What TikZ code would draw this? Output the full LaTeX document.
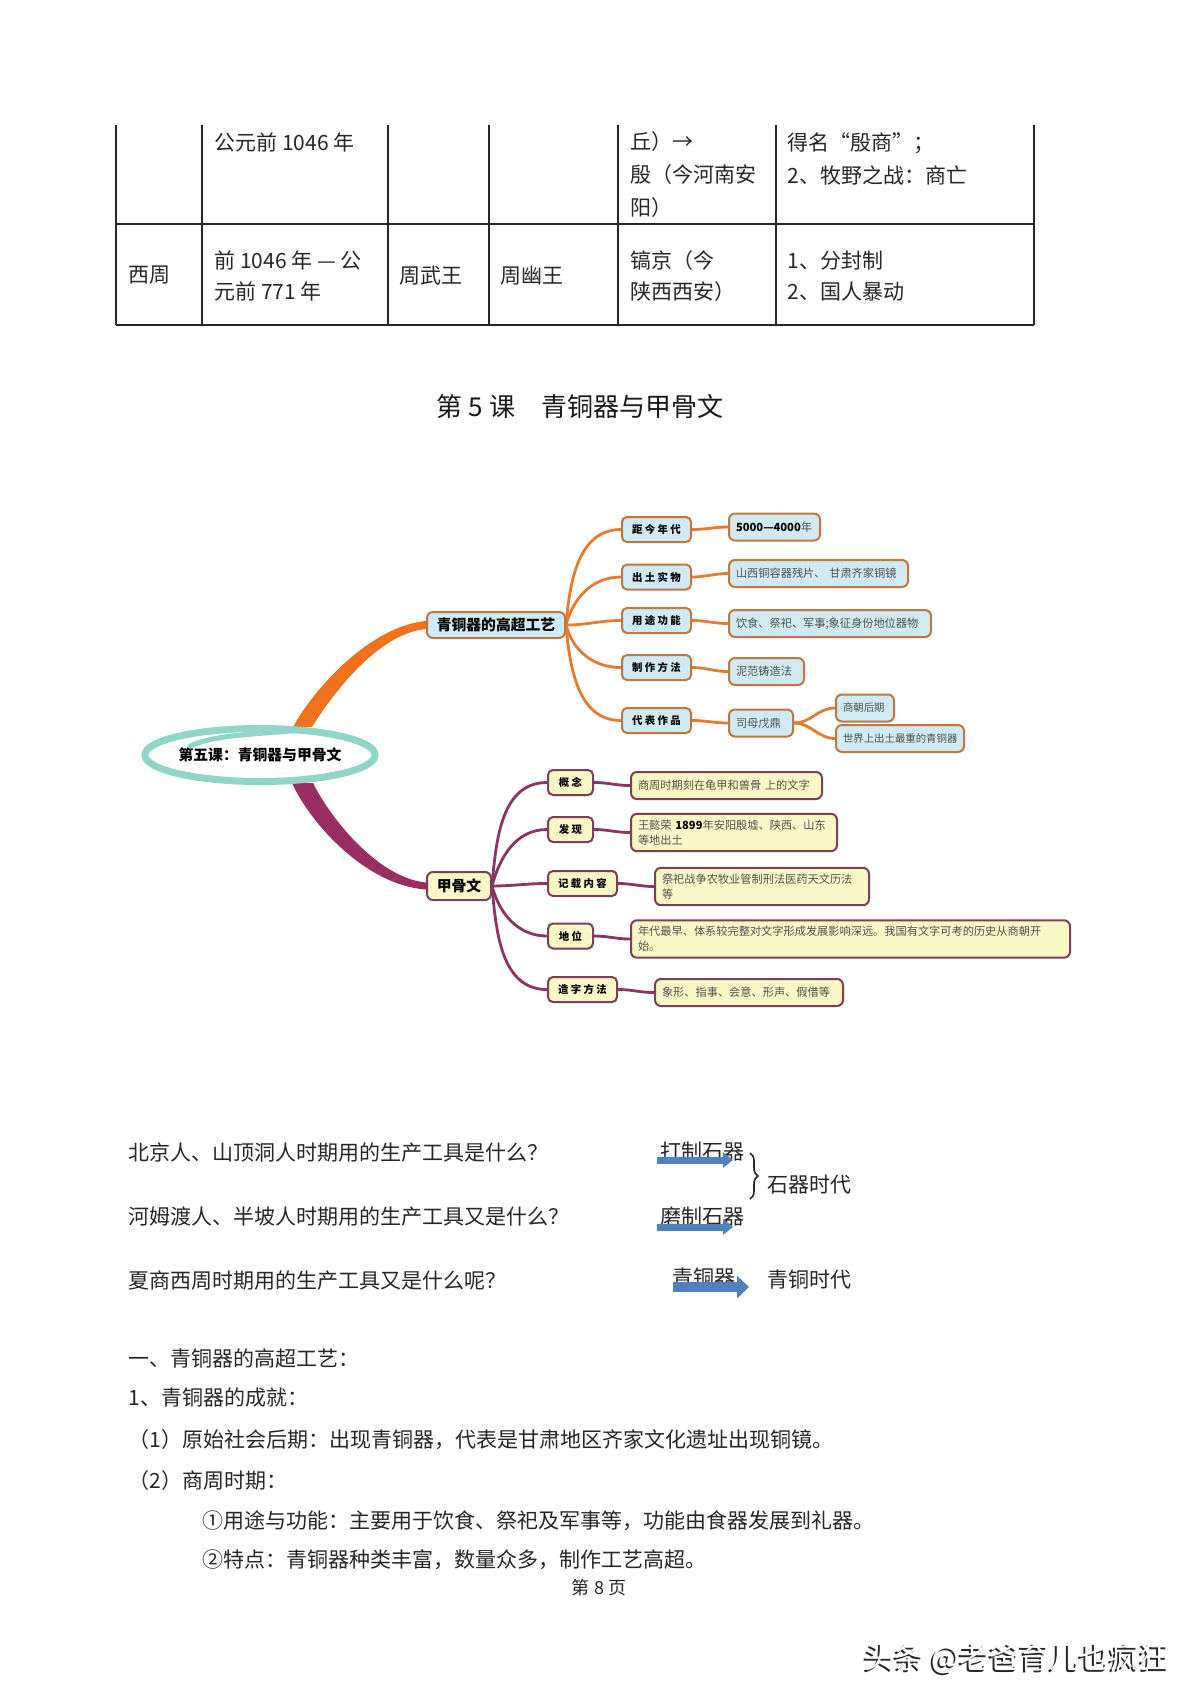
\documentclass[tikz,border=0pt]{standalone}
\usepackage{fontspec}
\setmainfont{Noto Sans CJK SC}
\usetikzlibrary{arrows.meta,positioning,calc,shapes.geometric,decorations.pathreplacing,backgrounds}
\definecolor{ringteal}{HTML}{8FD6C8}
\definecolor{orbranch}{HTML}{F2711C}
\definecolor{orline}{HTML}{E47B2F}
\definecolor{orborder}{HTML}{C0773F}
\definecolor{bluefill}{HTML}{CFEAF3}
\definecolor{mrbranch}{HTML}{9A2E62}
\definecolor{mrline}{HTML}{8B3463}
\definecolor{mrborder}{HTML}{7B3F57}
\definecolor{yelfill}{HTML}{FAF7C6}
\definecolor{leaftext}{HTML}{505050}
\definecolor{arrowblue}{HTML}{4F81BD}
\newcommand{\bodysize}{\fontsize{10.5}{15.5}\selectfont}
\newcommand{\leafsize}{\fontsize{5.6}{7.5}\selectfont}
\newcommand{\keysize}{\bfseries\fontsize{5.2}{6}\selectfont}

\begin{document}
\begin{tikzpicture}[
    x=0.5pt, y=-0.5pt,
    rule/.style={line width=0.8pt, black!85},
    txt/.style={anchor=west, inner sep=0pt, font=\bodysize, text=black!85},
    cell/.style={txt, align=left},
    topic/.style={ellipse, draw=ringteal, fill=white, line width=3.5pt, minimum width=114pt, minimum height=26.5pt, inner sep=0pt, font=\bfseries\fontsize{7.4}{9}\selectfont},
    hub/.style={rounded corners=3pt, line width=1pt, minimum height=13pt, inner sep=1pt, font=\bfseries\fontsize{7.4}{9}\selectfont},
    bkey/.style={draw=orborder, fill=bluefill, rounded corners=2.5pt, line width=1pt, minimum width=34.5pt, minimum height=12.5pt, inner sep=1pt, font=\keysize},
    okey/.style={draw=mrborder, fill=yelfill, rounded corners=2.5pt, line width=1pt, anchor=west, minimum width=#1, minimum height=12.5pt, inner sep=1pt, font=\keysize},
    leaf/.style={rounded corners=3pt, line width=1pt, minimum height=13.5pt, inner xsep=3.5pt, inner ysep=3pt, align=left, text width=#1, text=leaftext, font=\leafsize},
    bleaf/.style={leaf=#1, draw=orborder, fill=bluefill, anchor=west},
    oleaf/.style={leaf=#1, draw=mrborder, fill=yelfill, yshift=-1.5pt},
    oline/.style={draw=orline, line width=1.4pt},
    mline/.style={draw=mrline, line width=1.4pt},
    toolarrow/.style={draw=arrowblue, line width=3.5pt, -{Triangle[length=5pt,width=7.5pt]}},
  ]
  \useasboundingbox (0,0) rectangle (1200,1699);
  \begin{scope}[on background layer]
    \fill[white] (0,0) rectangle (1200,1699);
  \end{scope}

  % table carried over from the previous page
  \foreach \x in {116,202,388,489,618,776,1034}
    \draw[rule] (\x,125) -- (\x,325);
  \draw[rule] (116,224) -- (1034,224);
  \draw[rule] (116,325) -- (1034,325);
  \node[txt] (r1date) at (214,142) {公元前 1046 年};
  \node[cell, font=\fontsize{10.5}{16.5}\selectfont] (r1cap) at (630,175) {丘）→\\殷（今河南安\\阳）};
  \node[cell, font=\fontsize{10.5}{16.5}\selectfont] (r1note) at (787,159) {得名“殷商”；\\2、牧野之战：商亡};
  \node[txt] (r2dyn) at (128,275) {西周};
  \node[cell] (r2date) at (214,276) {前 1046 年 — 公\\元前 771 年};
  \node[txt] (r2found) at (399,276) {周武王};
  \node[txt] (r2last) at (500,276) {周幽王};
  \node[cell] (r2cap) at (630,276) {镐京（今\\陕西西安）};
  \node[cell] (r2note) at (787,276) {1、分封制\\2、国人暴动};

  \node[font=\fontsize{13}{15}\selectfont, text=black!90] (title) at (580,407) {第 5 课　青铜器与甲骨文};

  % mind map
  \node[topic] (topic) at (260,755) {第五课：青铜器与甲骨文};
  \node[hub, draw=orborder, fill=bluefill, minimum width=69pt] (bronze) at (496,625) {青铜器的高超工艺};
  \node[hub, draw=mrborder, fill=yelfill, minimum width=32pt, minimum height=14pt] (oracle) at (459,886) {甲骨文};

  \node[bkey] (age) at (656.5,529.5) {距 今 年 代};
  \node[bkey] (finds) at (656.5,577) {出 土 实 物};
  \node[bkey] (use) at (656.5,620.5) {用 途 功 能};
  \node[bkey] (make) at (656.5,667.5) {制 作 方 法};
  \node[bkey] (works) at (656.5,720.5) {代 表 作 品};
  \node[bleaf=38.5pt] (lage) at (728,527) {\textbf{\color{black}5000—4000}年};
  \node[bleaf=82.5pt] (lfinds) at (728,573.5) {山西铜容器残片、 甘肃齐家铜镜};
  \node[bleaf=94pt] (luse) at (728,623.5) {饮食、祭祀、军事;象征身份地位器物};
  \node[bleaf=30.5pt] (lmake) at (728,671.5) {泥范铸造法};
  \node[bleaf=25pt] (lworks) at (728,723) {司母戊鼎};
  \node[bleaf=22pt, font=\fontsize{5.2}{7}\selectfont] (late) at (835,708) {商朝后期};
  \node[bleaf=57pt, font=\fontsize{5.2}{7}\selectfont] (heavy) at (835,738.5) {世界上出土最重的青铜器};

  \node[okey=22.5pt] (concept) at (547,782.5) {概 念};
  \node[okey=22.5pt] (found) at (547,829.5) {发 现};
  \node[okey=34.5pt] (record) at (547,883.5) {记 载 内 容};
  \node[okey=22.5pt] (status) at (547,936) {地 位};
  \node[okey=34.5pt] (method) at (547,989.5) {造 字 方 法};
  \node[oleaf=88.5pt, right=18pt of concept] (lconcept) {商周时期刻在龟甲和兽骨 上的文字};
  \node[oleaf=96pt, right=18pt of found] (lfound) {王懿荣 \textbf{\color{black}1899}年安阳殷墟、陕西、山东\\等地出土};
  \node[oleaf=100pt, right=18pt of record] (lrecord) {祭祀战争农牧业管制刑法医药天文历法\\等};
  \node[oleaf=212.5pt, right=18pt of status] (lstatus) {年代最早、体系较完整对文字形成发展影响深远。我国有文字可考的历史从商朝开\\始。};
  \node[oleaf=87pt, right=18pt of method] (lmethod) {象形、指事、会意、形声、假借等};

  \begin{scope}[on background layer]
    % tapered main branches
    \fill[orbranch] ($(topic.north)+(33,2)$) .. controls +(22,-40) and +(-55,5) .. ($(bronze.west)+(0,-4)$)
      -- ($(bronze.west)+(0,4)$) .. controls +(-45,4) and +(25,-40) .. ($(topic.north)+(52,2)$) -- cycle;
    \fill[mrbranch] ($(topic.south)+(32,-2)$) .. controls +(18,40) and +(-60,-4) .. ($(oracle.west)+(0,3.5)$)
      -- ($(oracle.west)+(0,-3.5)$) .. controls +(-45,-4) and +(20,40) .. ($(topic.south)+(53,-2)$) -- cycle;
    \draw[oline] (bronze.east) to[out=85,in=180] (age.west);
    \draw[oline] (bronze.east) to[out=75,in=180] (finds.west);
    \draw[oline] (bronze.east) to[out=0,in=180] (use.west);
    \draw[oline] (bronze.east) to[out=-75,in=180] (make.west);
    \draw[oline] (bronze.east) to[out=-85,in=180] (works.west);
    \foreach \k in {age,finds,use,make,works}
      \draw[oline] (\k.east) to[out=0,in=180] (l\k.west);
    \draw[oline] (lworks.east) to[out=0,in=180] (late.west);
    \draw[oline] (lworks.east) to[out=0,in=180] (heavy.west);
    \draw[mline] (oracle.east) to[out=85,in=180] (concept.west);
    \draw[mline] (oracle.east) to[out=75,in=180] (found.west);
    \draw[mline] (oracle.east) to[out=0,in=180] (record.west);
    \draw[mline] (oracle.east) to[out=-75,in=180] (status.west);
    \draw[mline] (oracle.east) to[out=-85,in=180] (method.west);
    \foreach \k in {concept,found,record,status,method}
      \draw[mline] (\k.east) to[out=0,in=180] (l\k.west);
  \end{scope}
  % inner swirl of the ring
  \draw[ringteal, line width=2.5pt, line cap=round] ($(topic.center)+(-70,-9)$) .. controls +(25,-12) and +(-35,4) .. ($(topic.center)+(40,-25)$);

  % questions
  \node[txt] (q1) at (128,1152) {北京人、山顶洞人时期用的生产工具是什么？};
  \node[txt] (q2) at (128,1217) {河姆渡人、半坡人时期用的生产工具又是什么？};
  \node[txt] (q3) at (128,1281) {夏商西周时期用的生产工具又是什么呢？};
  \node[txt] (tool1) at (660,1152) {打制石器};
  \node[txt] (tool2) at (660,1217) {磨制石器};
  \node[txt] (tool3) at (672,1278) {青铜器};
  \node[txt] (stone) at (767,1185) {石器时代};
  \node[txt] (bronzeage) at (767,1280) {青铜时代};
  \coordinate (arr1s) at (657,1160);
  \coordinate (arr1e) at (733,1160);
  \coordinate (arr2s) at (657,1227);
  \coordinate (arr2e) at (733,1227);
  \coordinate (arr3s) at (673,1287);
  \coordinate (arr3e) at (749,1287);
  \draw[toolarrow] (arr1s) -- (arr1e);
  \draw[toolarrow] (arr2s) -- (arr2e);
  \draw[toolarrow, line width=5pt, -{Triangle[length=6pt,width=11pt]}] (arr3s) -- (arr3e);
  \coordinate (bracetop) at (750,1153);
  \coordinate (bracebot) at (750,1199);
  \draw[black!85, line width=0.8pt, decorate, decoration={brace, amplitude=4pt}] (bracetop) -- (bracebot);

  % notes
  \node[txt] (h1) at (128,1358) {一、青铜器的高超工艺：};
  \node[txt] (h2) at (128,1398) {1、青铜器的成就：};
  \node[txt] (p1) at (128,1440) {（1）原始社会后期：出现青铜器，代表是甘肃地区齐家文化遗址出现铜镜。};
  \node[txt] (p2) at (128,1480) {（2）商周时期：};
  \node[txt] (p3) at (202,1521) {①用途与功能：主要用于饮食、祭祀及军事等，功能由食器发展到礼器。};
  \node[txt] (p4) at (202,1560) {②特点：青铜器种类丰富，数量众多，制作工艺高超。};
  \node[font=\fontsize{9}{11}\selectfont, text=black!85] (pageno) at (599,1588) {第 8 页};

  \node[anchor=west, inner sep=0pt, font=\fontsize{15}{17}\selectfont, text=black!85] (markshadow) at (862,1660) {头条 @老爸育儿也疯狂};
  \node[anchor=west, inner sep=0pt, font=\fontsize{15}{17}\selectfont, text=white] (mark) at (864,1658) {头条 @老爸育儿也疯狂};
\end{tikzpicture}
\end{document}
